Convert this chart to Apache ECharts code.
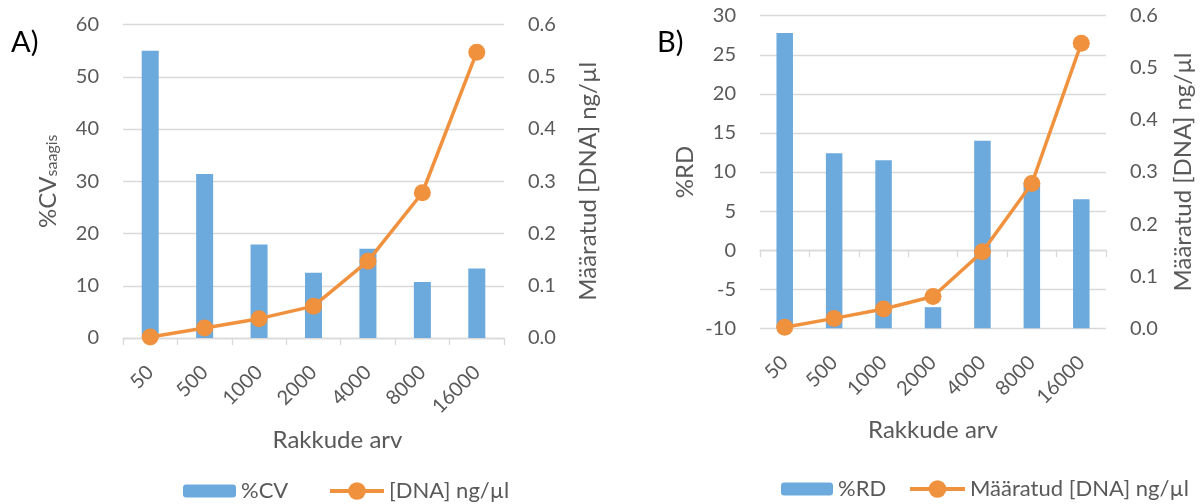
<!DOCTYPE html>
<html>
<head>
<meta charset="utf-8">
<script src="https://cdn.jsdelivr.net/npm/echarts@6/dist/echarts.min.js"></script>
<style>
html,body{margin:0;padding:0;background:#fff;}
#c{width:1202px;height:504px;}
</style>
</head>
<body>
<div id="c"></div>
<script>
// ---- data ----
var categories = ['50', '500', '1000', '2000', '4000', '8000', '16000'];
var cvValues = [55.0, 31.4, 17.9, 12.5, 17.1, 10.7, 13.3];          // %CV (panel A)
var rdValues = [27.8, 12.4, 11.5, -7.3, 14.0, 8.6, 6.5];            // %RD (panel B)
var dnaValues = [0.002, 0.019, 0.037, 0.061, 0.147, 0.278, 0.547]; // [DNA] ng/µl
var leftTicksA = [0, 60, 10];
var leftTicksB = [-10, 30, 5];
var rightTicks = [0, 0.6, 0.1];

var FONT = 'Lato';
var GRAY = '#595959';
var BLUE = '#6CA9DC';
var ORANGE = '#F0913E';
var GRID = '#D9D9D9';

function xAxisCfg(gridIndex, shift) {
  return {
    type: 'category', gridIndex: gridIndex, data: categories,
    boundaryGap: true,
    axisLine: {show: true, lineStyle: {color: GRID, width: 1.3}},
    axisTick: {show: true, alignWithLabel: false, length: 7, lineStyle: {color: GRID, width: 1.3}},
    axisLabel: {interval: 0, rotate: 45, margin: 31, color: GRAY, fontFamily: FONT, fontSize: 20},
    name: 'Rakkude arv', nameLocation: 'middle', nameGap: 90,
    nameTextStyle: {color: GRAY, fontFamily: FONT, fontSize: 24, padding: [0, 0, 0, shift]}
  };
}
function leftAxisCfg(gridIndex, ticks, name, gap, rich) {
  return {
    type: 'value', gridIndex: gridIndex, min: ticks[0], max: ticks[1], interval: ticks[2],
    startValue: ticks[0],
    position: 'left',
    axisLine: {show: false}, axisTick: {show: false},
    splitLine: {show: true, lineStyle: {color: GRID, width: 1.3}},
    axisLabel: {color: GRAY, fontFamily: FONT, fontSize: 20, margin: 24},
    name: name, nameLocation: 'middle', nameGap: gap,
    nameTextStyle: {color: GRAY, fontFamily: FONT, fontSize: 24, rich: rich}
  };
}
function rightAxisCfg(gridIndex, gap) {
  return {
    type: 'value', gridIndex: gridIndex, min: rightTicks[0], max: rightTicks[1], interval: rightTicks[2],
    position: 'right',
    axisLine: {show: false}, axisTick: {show: false}, splitLine: {show: false},
    axisLabel: {color: GRAY, fontFamily: FONT, fontSize: 20, margin: 24,
      formatter: function (v) { return v.toFixed(1); }},
    name: 'Määratud [DNA] ng/µl', nameLocation: 'middle', nameGap: gap,
    nameTextStyle: {color: GRAY, fontFamily: FONT, fontSize: 24}
  };
}
function legendCfg(name, left, top, w, h) {
  return {data: [name], left: left, top: top, padding: 0, itemWidth: w, itemHeight: h, itemGap: 0,
    lineStyle: {width: 4}, textStyle: {color: GRAY, fontFamily: FONT, fontSize: 22}};
}

var chart = echarts.init(document.getElementById('c'), null, {renderer: 'canvas'});
var option = {
  animation: false,
  backgroundColor: '#fff',
  graphic: [
    {type: 'text', left: 11, top: 28, style: {text: 'A)', fill: '#000', font: '29px ' + FONT}},
    {type: 'text', left: 657, top: 28, style: {text: 'B)', fill: '#000', font: '29px ' + FONT}}
  ],
  grid: [
    {left: 123, right: 698, top: 24.5, bottom: 166, containLabel: false},
    {left: 760, right: 96, top: 15.7, bottom: 175.7, containLabel: false}
  ],
  xAxis: [xAxisCfg(0, 48), xAxisCfg(1, 0)],
  yAxis: [
    leftAxisCfg(0, leftTicksA, '{m|%CV}{s|saagis}', 63, {
      m: {fontSize: 24, fontFamily: FONT, color: GRAY, lineHeight: 24, verticalAlign: 'top'},
      s: {fontSize: 16, fontFamily: FONT, color: GRAY, lineHeight: 16, padding: [14, 0, 0, 0], verticalAlign: 'bottom'}
    }),
    rightAxisCfg(0, 72),
    leftAxisCfg(1, leftTicksB, '%RD', 63, null),
    rightAxisCfg(1, 65)
  ],
  legend: [
    legendCfg('%CV', 183, 480, 53, 13),
    legendCfg('[DNA] ng/µl', 328, 480, 54, 22),
    legendCfg('%RD', 781, 478, 52, 13),
    legendCfg('Määratud [DNA] ng/µl', 908, 478, 55, 22)
  ],
  series: [
    {name: '%CV', type: 'bar', xAxisIndex: 0, yAxisIndex: 0, data: cvValues, barWidth: 17,
     itemStyle: {color: BLUE}},
    {name: '[DNA] ng/µl', type: 'line', xAxisIndex: 0, yAxisIndex: 1, data: dnaValues,
     symbol: 'circle', symbolSize: 17, clip: false,
     lineStyle: {color: ORANGE, width: 3.5}, itemStyle: {color: ORANGE}, z: 5},
    {name: '%RD', type: 'bar', xAxisIndex: 1, yAxisIndex: 2, data: rdValues, barWidth: 16.5,
     itemStyle: {color: BLUE}},
    {name: 'Määratud [DNA] ng/µl', type: 'line', xAxisIndex: 1, yAxisIndex: 3, data: dnaValues,
     symbol: 'circle', symbolSize: 17, clip: false,
     lineStyle: {color: ORANGE, width: 3.5}, itemStyle: {color: ORANGE}, z: 5}
  ]
};
chart.setOption(option);
</script>
</body>
</html>
